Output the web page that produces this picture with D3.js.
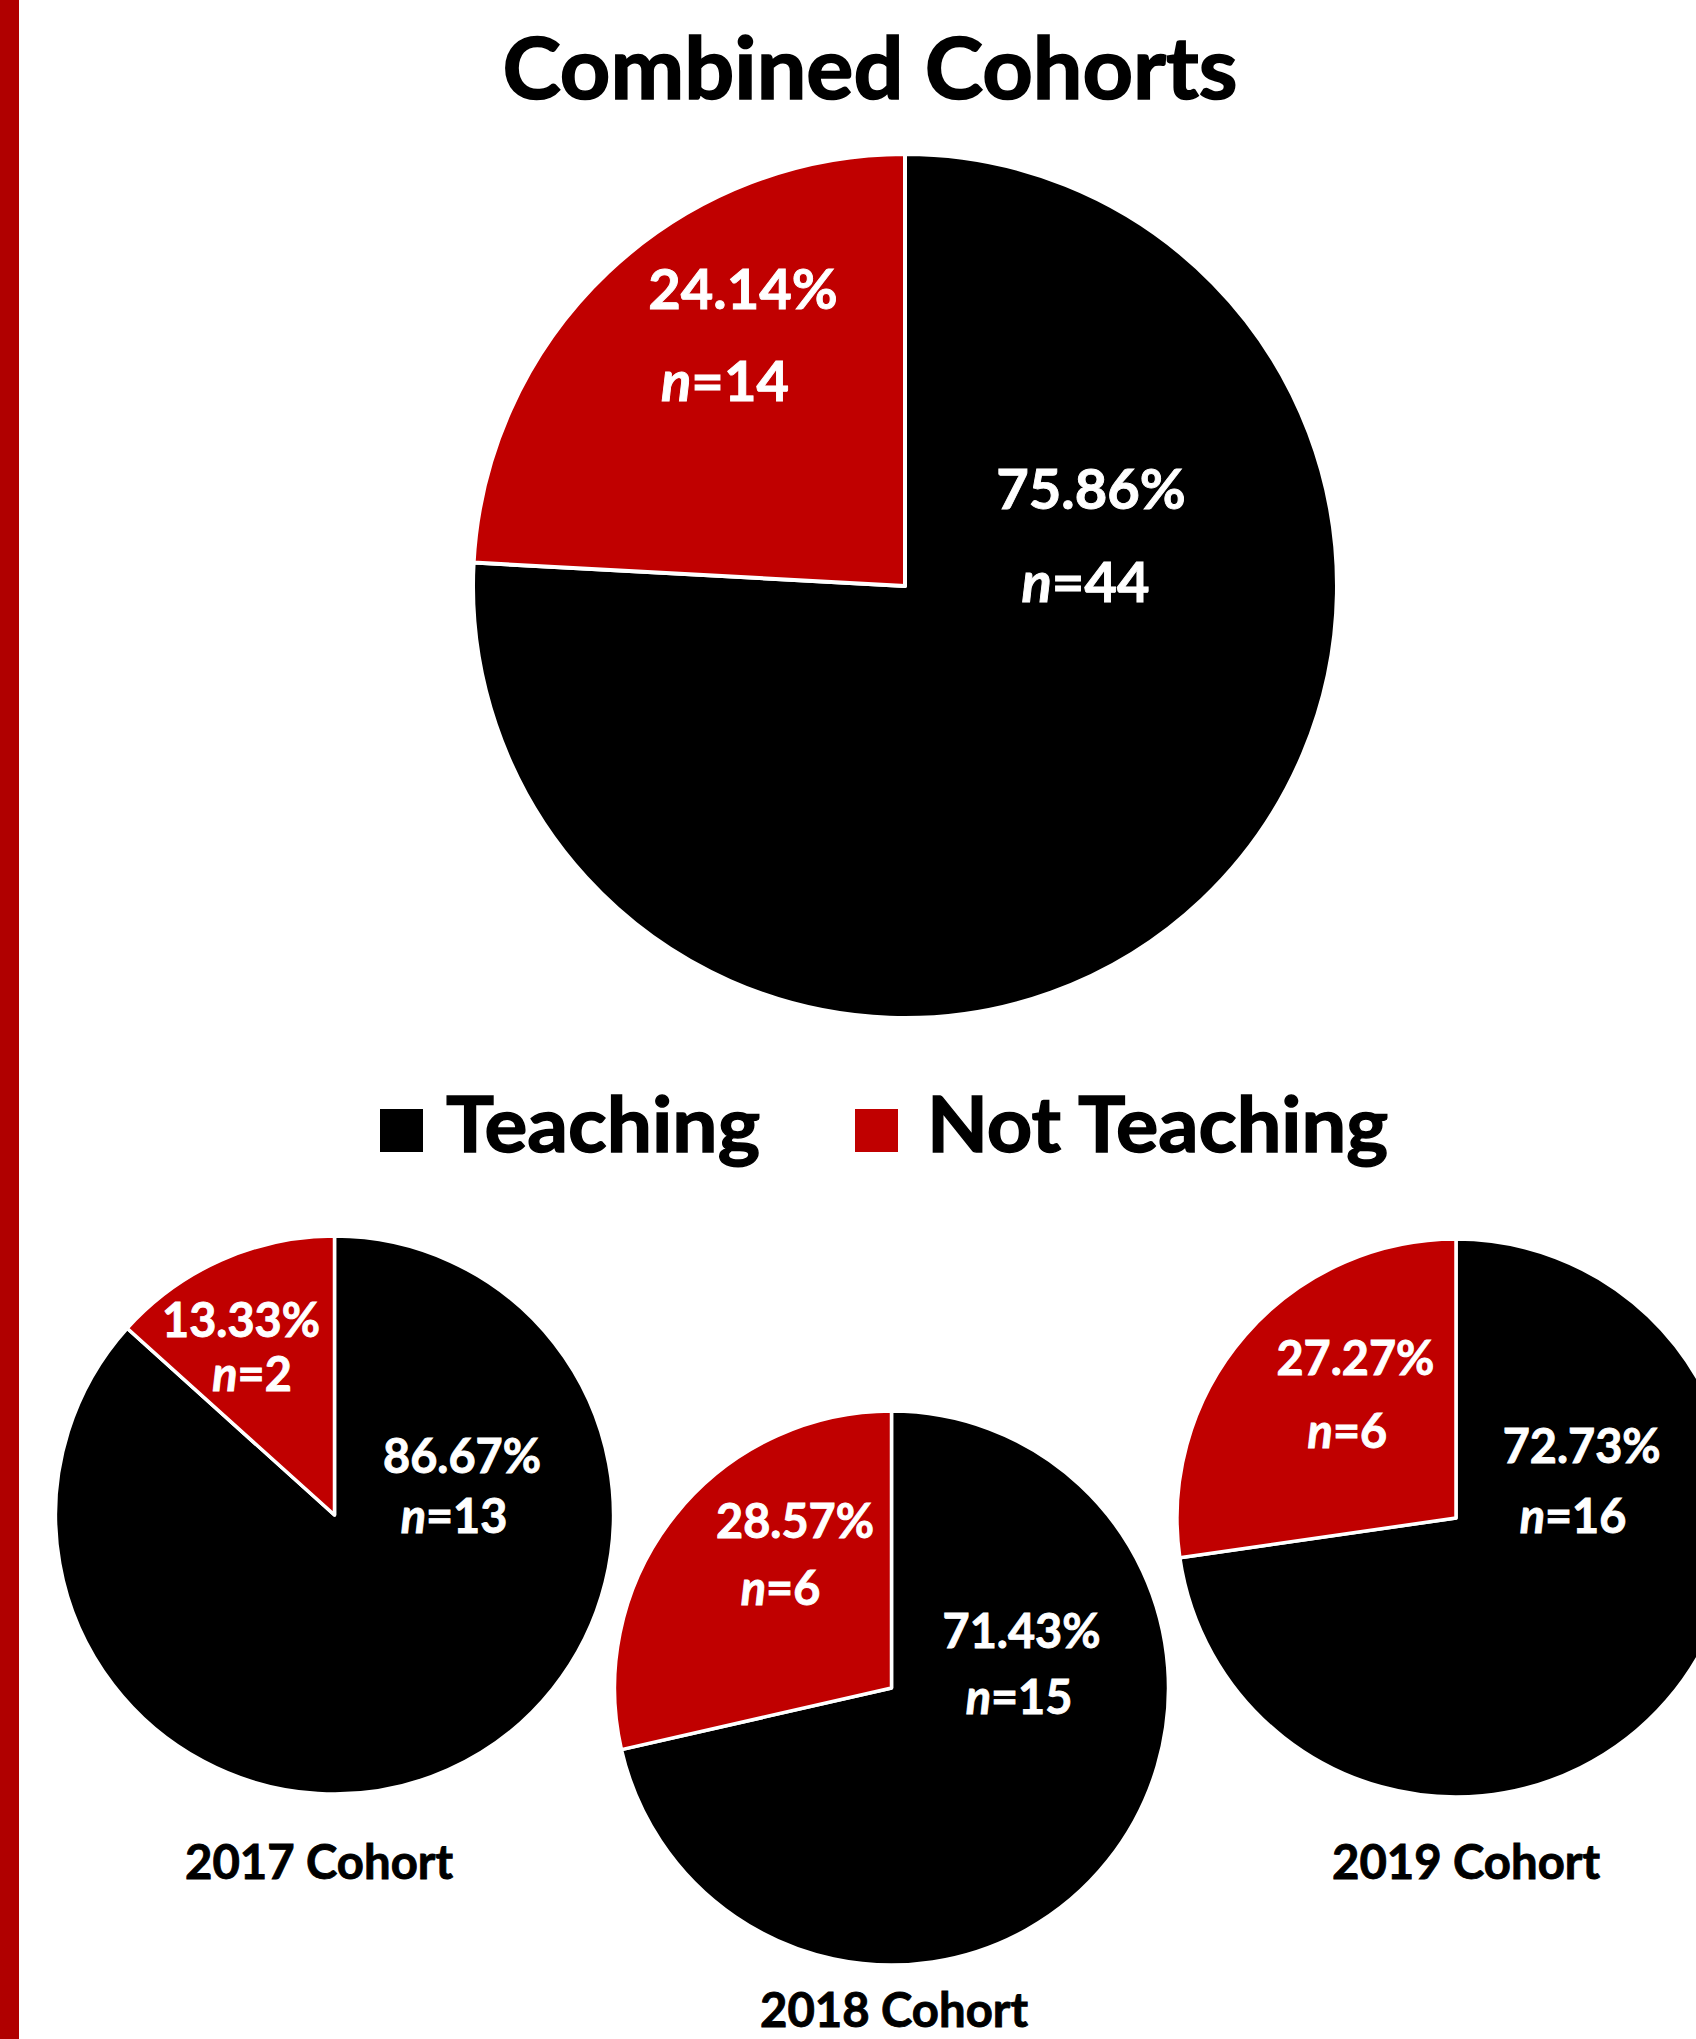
<!DOCTYPE html>
<html>
<head>
<meta charset="utf-8">
<script src="https://cdn.jsdelivr.net/npm/d3@7"></script>
<style>
  html, body { margin: 0; padding: 0; background: #fff; }
  svg { display: block; }
  text { font-family: Lato, "Open Sans", sans-serif; font-weight: 700; }
</style>
</head>
<body>
<svg id="chart" width="1696" height="2039"></svg>
<script>
// ---------- DATA ----------
const chartTitle = "Combined Cohorts";
const categories = ["Teaching", "Not Teaching"];
const cohorts = ["Combined", "2017 Cohort", "2018 Cohort", "2019 Cohort"];
const teachingN = [44, 13, 15, 16];
const notTeachingN = [14, 2, 6, 6];

// ---------- LAYOUT / STYLE ----------
const W = 1696, H = 2039;
const colors = { "Teaching": "#000000", "Not Teaching": "#C00000" };
const sideBar = { x: 0, w: 19, color: "#B00000" };
// pie geometry + label offsets (relative to pie center) : [pctLine, nLine]
const pieLayout = [
  { cx: 905, cy: 586, r: 432, stroke: 4, font: 56, pctW: 189.5, cohortLabel: null,
    off: { "Teaching": [[186, -77], [180.5, 16]], "Not Teaching": [[-162, -277], [-180, -185]] } },
  { cx: 334.5, cy: 1515, r: 279, stroke: 3.5, font: 47, pctW: 158, cohortLabel: [-15.5, 364],
    off: { "Teaching": [[127.5, -42], [119.5, 18]], "Not Teaching": [[-93.5, -178], [-82.5, -124]] } },
  { cx: 891.5, cy: 1688, r: 277, stroke: 3.5, font: 47, pctW: 158, cohortLabel: [2.5, 339],
    off: { "Teaching": [[130, -40], [127.5, 26]], "Not Teaching": [[-96.5, -150.5], [-111, -83]] } },
  { cx: 1456, cy: 1518, r: 279, stroke: 3.5, font: 47, pctW: 158, cohortLabel: [10, 361],
    off: { "Teaching": [[125.7, -55.5], [117, 14.6]], "Not Teaching": [[-100.6, -143], [-108.6, -70]] } }
];

const svg = d3.select("#chart");

// left accent bar
svg.append("rect").attr("x", sideBar.x).attr("y", 0).attr("width", sideBar.w).attr("height", H)
  .attr("fill", sideBar.color);

// title
const title = svg.append("text").attr("x", 870).attr("y", 99).attr("text-anchor", "middle")
  .attr("font-size", 86).attr("fill", "#000")
  .attr("stroke", "#000").attr("stroke-width", 1.6).text(chartTitle);
title.attr("textLength", 735).attr("lengthAdjust", "spacingAndGlyphs");

const pie = d3.pie().sort(null).value(d => d.value).startAngle(0).endAngle(2 * Math.PI);

cohorts.forEach((c, i) => {
  const L = pieLayout[i];
  const total = teachingN[i] + notTeachingN[i];
  const data = [
    { cat: categories[0], value: teachingN[i] },
    { cat: categories[1], value: notTeachingN[i] }
  ];
  const arc = d3.arc().innerRadius(0).outerRadius(L.r);
  const g = svg.append("g").attr("transform", `translate(${L.cx},${L.cy})`);
  g.selectAll("path.slice").data(pie(data)).join("path")
    .attr("class", "slice")
    .attr("d", arc)
    .attr("fill", d => colors[d.data.cat])
    .attr("stroke", "#fff")
    .attr("stroke-width", L.stroke)
    .attr("stroke-linejoin", "round");

  data.forEach(d => {
    const pct = (d.value / total * 100).toFixed(2) + "%";
    const [p1, p2] = L.off[d.cat];
    const t1 = g.append("text").attr("x", p1[0]).attr("y", p1[1]).attr("text-anchor", "middle")
      .attr("font-size", L.font).attr("fill", "#fff")
      .attr("stroke", "#fff").attr("stroke-width", 0.9).text(pct);
    const nat = t1.node().getComputedTextLength();
    const ratio = L.pctW / nat;
    t1.attr("textLength", L.pctW).attr("lengthAdjust", "spacingAndGlyphs");
    const t2 = g.append("text").attr("x", p2[0]).attr("y", p2[1]).attr("text-anchor", "middle")
      .attr("font-size", L.font).attr("fill", "#fff")
      .attr("stroke", "#fff").attr("stroke-width", 0.9);
    t2.append("tspan").attr("font-style", "italic").text("n");
    t2.append("tspan").text("=" + d.value);
    const nat2 = t2.node().getComputedTextLength();
    t2.attr("textLength", nat2 * ratio).attr("lengthAdjust", "spacingAndGlyphs");
  });

  if (L.cohortLabel) {
    const t = g.append("text").attr("x", L.cohortLabel[0]).attr("y", L.cohortLabel[1])
      .attr("text-anchor", "middle").attr("font-size", 47).attr("fill", "#000")
      .attr("stroke", "#000").attr("stroke-width", 0.9).text(c);
    t.attr("textLength", 268).attr("lengthAdjust", "spacingAndGlyphs");
  }
});

// legend
const legendItems = [
  { cat: categories[0], sx: 380, tx: 446, tw: 314 },
  { cat: categories[1], sx: 855, tx: 927, tw: 461 }
];
const lg = svg.append("g");
legendItems.forEach(it => {
  lg.append("rect").attr("x", it.sx).attr("y", 1109).attr("width", 43).attr("height", 43)
    .attr("fill", colors[it.cat]);
  lg.append("text").attr("x", it.tx).attr("y", 1152).attr("font-size", 76).attr("fill", "#000")
    .attr("stroke", "#000").attr("stroke-width", 1.4)
    .attr("textLength", it.tw).attr("lengthAdjust", "spacingAndGlyphs").text(it.cat);
});
</script>
</body>
</html>
